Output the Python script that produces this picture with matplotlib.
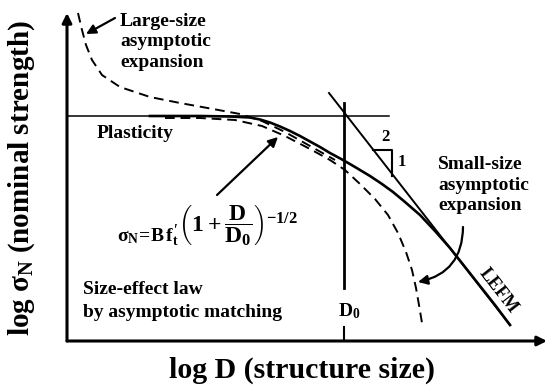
import matplotlib
matplotlib.use('Agg')
import matplotlib.pyplot as plt

plt.rcParams['font.family'] = ['Liberation Serif', 'DejaVu Serif']
plt.rcParams['font.weight'] = 'bold'
plt.rcParams['mathtext.fontset'] = 'custom'
plt.rcParams['mathtext.rm'] = 'Liberation Serif:bold'
plt.rcParams['mathtext.it'] = 'Liberation Serif:bold'
plt.rcParams['mathtext.bf'] = 'Liberation Serif:bold'

# schematic values (x = log D, y = log sigma_N, arbitrary units)
plastic_x = [0.0, 6.44]
plastic_y = [4.5, 4.5]
d0_x = 5.54
lefm_x = [5.24, 8.86]
lefm_y = [4.96, 0.32]

# size-effect law (solid)
sel_x = [1.66, 2.66, 3.26, 3.66, 3.86, 4.06, 4.26, 4.46, 4.66, 4.86, 5.06, 5.26, 5.52, 5.76,
         6.06, 6.30, 6.52, 6.76, 7.06, 7.36, 7.66, 7.96, 8.26, 8.56, 8.86]
sel_y = [4.50, 4.50, 4.49, 4.47, 4.43, 4.37, 4.29, 4.20, 4.10, 3.99, 3.88, 3.76, 3.62, 3.48,
         3.30, 3.14, 2.98, 2.78, 2.52, 2.20, 1.86, 1.48, 1.10, 0.72, 0.32]

# large-size asymptotic expansion (dashed)
large_x = [0.22, 0.30, 0.38, 0.50, 0.70, 1.06, 1.66, 2.26, 2.92, 3.46, 3.90, 4.36, 4.86, 5.36]
large_y = [6.56, 6.22, 5.92, 5.62, 5.32, 5.08, 4.88, 4.76, 4.64, 4.54, 4.40, 4.18, 3.90, 3.62]

# small-size asymptotic expansion (dashed)
small_x = [1.96, 2.66, 3.36, 3.90, 4.36, 4.86, 5.26, 5.56, 5.86, 6.16, 6.42, 6.62, 6.78,
           6.90, 6.98, 7.04, 7.10]
small_y = [4.46, 4.46, 4.42, 4.30, 4.10, 3.84, 3.62, 3.42, 3.14, 2.84, 2.52, 2.16, 1.78,
           1.42, 1.06, 0.72, 0.36]

W, H = 548, 387
fig = plt.figure(figsize=(W / 100, H / 100), dpi=100)
ax = fig.add_axes([67 / W, 46 / H, 481 / W, 341 / H])
ax.set_xlim(0, 9.62)
ax.set_ylim(0, 6.82)
ax.axis('off')

# axes with arrow heads
arr = dict(arrowstyle='-|>', lw=2.2, color='black', mutation_scale=14, shrinkA=0, shrinkB=0)
ax.annotate('', xy=(0, 6.56), xytext=(0, 0), arrowprops=arr, annotation_clip=False)
ax.annotate('', xy=(9.6, 0), xytext=(0, 0), arrowprops=arr, annotation_clip=False)

ax.plot(plastic_x, plastic_y, color='black', lw=1.1)
ax.plot([d0_x, d0_x], [1.06, 4.76], color='black', lw=2.0)
ax.plot([d0_x, d0_x], [0, 0.28], color='black', lw=1.5)
ax.plot(lefm_x, lefm_y, color='black', lw=1.4)
ax.plot(sel_x, sel_y, color='black', lw=1.9)
ax.plot(large_x, large_y, color='black', lw=1.4, ls=(0, (5, 3)))
ax.plot(small_x, small_y, color='black', lw=1.4, ls=(0, (5, 3)))

# slope triangle
ax.plot([6.12, 6.5, 6.5], [3.82, 3.82, 3.3], color='black', lw=1.5)
ax.text(6.36, 4.08, '2', fontsize=12, ha='center', va='center')
ax.text(6.70, 3.58, '1', fontsize=12, ha='center', va='center')

# annotations
head = dict(arrowstyle='-|>', lw=1.6, color='black', mutation_scale=14, shrinkA=0, shrinkB=0)
ax.annotate('', xy=(0.38, 6.14), xytext=(0.96, 6.46), arrowprops=head)
ax.annotate('', xy=(4.22, 4.08), xytext=(3.0, 2.92), arrowprops=head)
ax.annotate('', xy=(7.02, 1.18), xytext=(7.92, 2.28),
            arrowprops=dict(head, connectionstyle='arc3,rad=-0.4'))

ax.text(1.06, 5.98, 'Large-size\nasymptotic\nexpansion', fontsize=14, ha='left', va='center',
        linespacing=1.3)
ax.text(0.60, 4.16, 'Plasticity', fontsize=14, ha='left', va='center')
ax.text(7.42, 3.12, 'Small-size\nasymptotic\nexpansion', fontsize=14, ha='left', va='center',
        linespacing=1.3)
ax.text(0.32, 0.80, 'Size-effect law\nby asymptotic matching', fontsize=14, ha='left',
        va='center', linespacing=1.45)

# size-effect law formula
ax.text(2.24, 1.98, r'$\sigma_N\!=\!B\,f_t^{\prime}$', fontsize=14, ha='right', va='baseline')
ax.text(2.22, 2.30, r'$\left(1+\dfrac{D}{D_0}\right)^{-1/2}$', fontsize=17, ha='left',
        va='center')

ax.text(5.42, 0.60, r'D$_0$', fontsize=14, ha='left', va='center')
ax.text(8.62, 1.00, 'LEFM', fontsize=13, ha='center', va='center', rotation=-52)

ax.text(4.70, -0.58, 'log D (structure size)', fontsize=21.5, ha='center', va='center')
ax.text(-0.9, 3.26, r'log $\sigma_N$ (nominal strength)', fontsize=21, ha='center',
        va='center', rotation=90)

fig.savefig('out.png', dpi=100)
